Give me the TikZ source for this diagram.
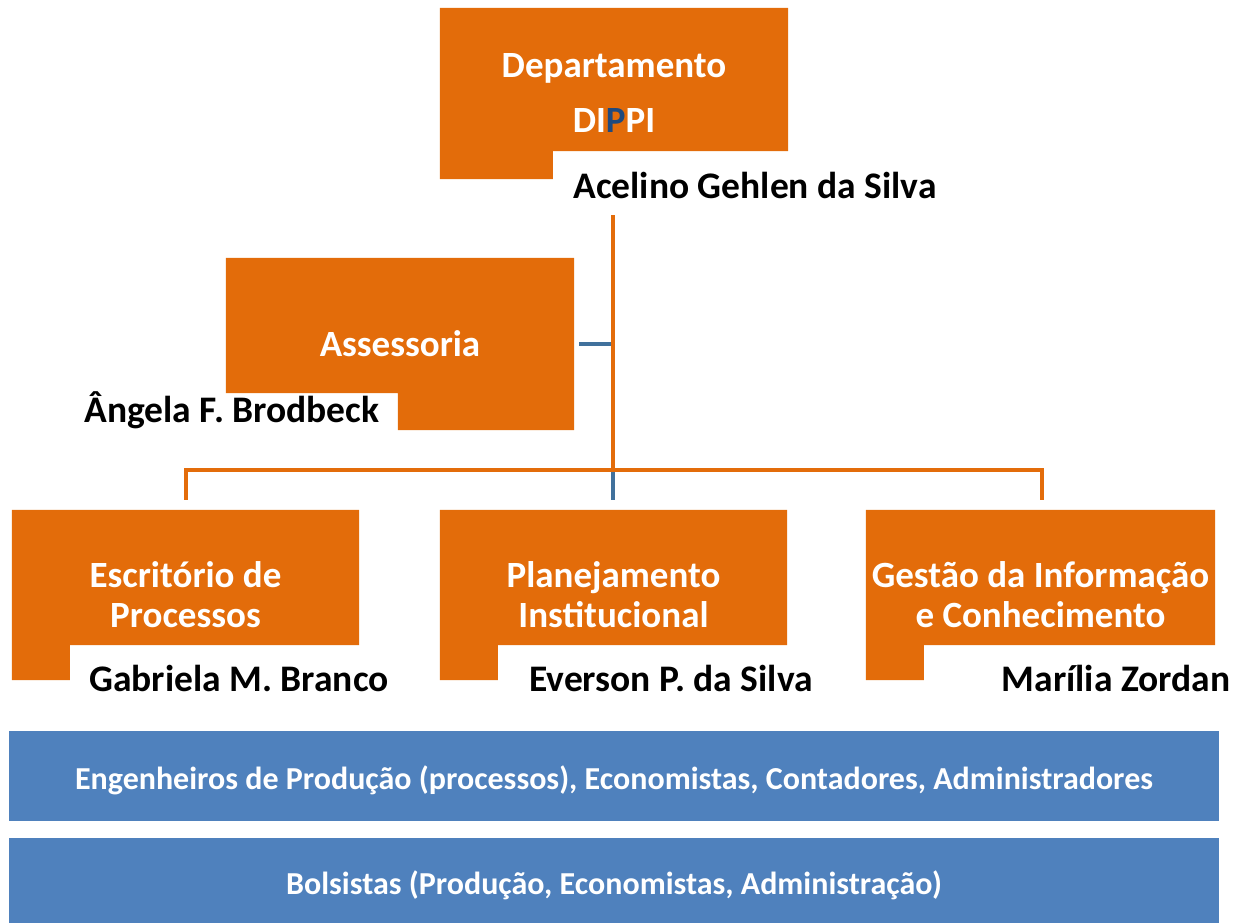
\documentclass[tikz,border=0pt]{standalone}
\usepackage{fontspec}
\setmainfont{Carlito}
\usetikzlibrary{backgrounds}
\definecolor{org}{HTML}{E36C0A}
\definecolor{barblue}{HTML}{4F81BD}
\definecolor{lineblue}{HTML}{41719C}
\definecolor{pblue}{HTML}{1F497D}
\tikzset{
  boxtext/.style={text=white, font=\bfseries\fontsize{37}{40}\selectfont, align=center, inner sep=0pt},
  nametext/.style={text=black, font=\bfseries\fontsize{37.5}{40}\selectfont, inner sep=0pt},
  bar/.style={fill=barblue, minimum width=1210pt},
  bartext/.style={text=white, font=\bfseries\fontsize{32}{36}\selectfont, inner sep=0pt},
  orgline/.style={draw=org, line width=4pt},
  blueline/.style={draw=lineblue, line width=4pt},
  orgfill/.style={fill=org},
}
\begin{document}
\begin{tikzpicture}[x=1pt,y=-1pt]
\useasboundingbox (0,0) rectangle (1236,923);

% boxes (text nodes covering the whole L-shape)
\node[boxtext, minimum width=348pt, minimum height=171pt] (dept) at (614,93.5) {Departamento\\[15pt]DI\textcolor{pblue}{P}PI};
\node[boxtext, minimum width=348pt, minimum height=172pt] (ass) at (400,344) {Assessoria};
\node[boxtext, minimum width=347pt, minimum height=170pt] (esc) at (185.5,595) {Escritório de\\Processos};
\node[boxtext, minimum width=347pt, minimum height=170pt] (plan) at (613.5,595) {Planejamento\\Institucional};
\node[boxtext, minimum width=349pt, minimum height=170pt] (gest) at (1040.5,595) {Gestão da Informação\\e Conhecimento};

\begin{scope}[on background layer]
  \fill[orgfill] (dept.north west) -- (dept.north east) -- ([yshift=28pt]dept.south east)
     -- ([xshift=113pt,yshift=28pt]dept.south west) -- ([xshift=113pt]dept.south west) -- (dept.south west) -- cycle;
  \fill[orgfill] (ass.north west) -- (ass.north east) -- (ass.south east)
     -- ([xshift=172pt]ass.south west) -- ([xshift=172pt,yshift=37pt]ass.south west) -- ([yshift=37pt]ass.south west) -- cycle;
  \foreach \b in {esc,plan,gest}{
    \fill[orgfill] (\b.north west) -- (\b.north east) -- ([yshift=35pt]\b.south east)
       -- ([xshift=58pt,yshift=35pt]\b.south west) -- ([xshift=58pt]\b.south west) -- (\b.south west) -- cycle;
  }
\end{scope}

% names
\node[nametext] (acelino) at (755,185) {Acelino Gehlen da Silva};
\node[nametext] (angela) at (232,410) {Ângela F. Brodbeck};
\node[nametext] (gabriela) at (239,678) {Gabriela M. Branco};
\node[nametext] (everson) at (671,678) {Everson P. da Silva};
\node[nametext] (marilia) at (1116,678) {Marília Zordan};

% connectors
\coordinate (hubtop) at (613,215);
\coordinate (hub) at (613,470);
\draw[blueline] ([xshift=5pt]ass.east) -- (ass.east -| hub);
\draw[blueline] (hub) -- ([yshift=10pt]plan.north -| hub);
\draw[orgline] (hubtop) -- (hub);
\draw[orgline] ([yshift=10pt]esc.north) |- (hub) -| ([yshift=10pt,xshift=1.5pt]gest.north);

% bars
\node[bar, minimum height=90pt] (eng) at (614,776) {};
\node[bartext] (engtxt) at (614,780) {Engenheiros de Produção (processos), Economistas, Contadores, Administradores};
\node[bar, minimum height=85pt] (bols) at (614,880.5) {};
\node[bartext] (bolstxt) at (614,885) {Bolsistas (Produção, Economistas, Administração)};
\end{tikzpicture}
\end{document}
